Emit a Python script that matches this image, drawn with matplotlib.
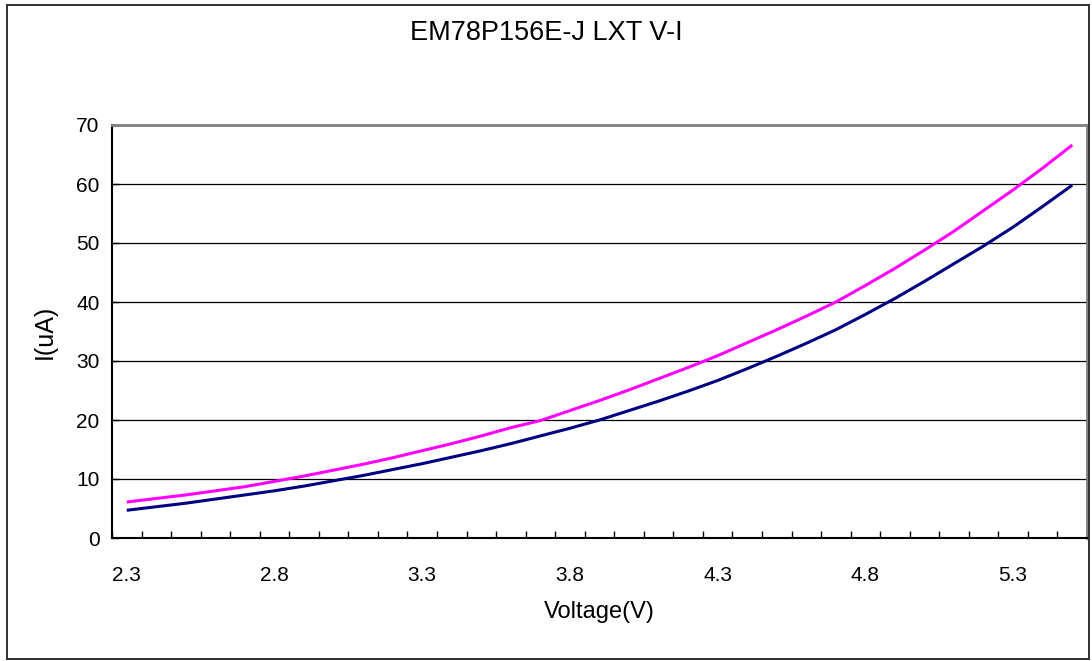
import numpy as np
import matplotlib
matplotlib.use("Agg")
from matplotlib import pyplot as plt
from matplotlib.patches import Rectangle

plt.rcParams['font.family'] = ['Liberation Sans', 'DejaVu Sans']

voltage = ["2.3", "2.4", "2.5", "2.6", "2.7", "2.8", "2.9", "3.0", "3.1", "3.2",
           "3.3", "3.4", "3.5", "3.6", "3.7", "3.8", "3.9", "4.0", "4.1", "4.2",
           "4.3", "4.4", "4.5", "4.6", "4.7", "4.8", "4.9", "5.0", "5.1", "5.2",
           "5.3", "5.4", "5.5"]
i_magenta = [6.1, 6.7, 7.3, 8.0, 8.7, 9.6, 10.5, 11.5, 12.5, 13.6,
             14.8, 16.0, 17.3, 18.7, 19.9, 21.6, 23.3, 25.1, 27.0, 28.9,
             30.9, 33.1, 35.3, 37.6, 40.0, 42.8, 45.7, 48.8, 52.0, 55.5,
             59.0, 62.7, 66.6]
i_navy = [4.7, 5.3, 5.9, 6.6, 7.3, 8.0, 8.8, 9.7, 10.6, 11.6,
          12.6, 13.7, 14.8, 16.0, 17.3, 18.6, 20.0, 21.6, 23.2, 24.9,
          26.7, 28.7, 30.8, 33.0, 35.3, 37.9, 40.6, 43.5, 46.5, 49.5,
          52.7, 56.2, 59.8]
yticks = [0, 10, 20, 30, 40, 50, 60, 70]

W, H = 1092, 661
fig = plt.figure(figsize=(W / 100, H / 100), dpi=100)
# outer chart border
fig.patches.append(Rectangle((7 / W, 2 / H), 1082 / W, 654 / H, transform=fig.transFigure,
                             fill=False, edgecolor='#303030', linewidth=1.4))

left, right, top, bottom = 112, 1087, 125, 538
ax = fig.add_axes([left / W, 1 - bottom / H, (right - left) / W, (bottom - top) / H])

x = np.arange(len(voltage))
ax.plot(x, i_magenta, color='#ff00ff', linewidth=2.2, solid_capstyle='butt')
ax.plot(x, i_navy, color='#000080', linewidth=2.2, solid_capstyle='butt')

ax.set_xlim(-0.5, len(voltage) - 0.5)
ax.set_ylim(0, 70)
ax.set_yticks(yticks)
ax.yaxis.grid(True, color='black', linewidth=0.9)
ax.set_axisbelow(True)

ax.set_xticks(x[::5])
ax.set_xticklabels(voltage[::5])
ax.set_xticks(np.arange(len(voltage) + 1) - 0.5, minor=True)
ax.tick_params(axis='x', which='major', length=0, pad=20, labelsize=15)
ax.tick_params(axis='x', which='minor', direction='in', length=5, width=1, color='black')
ax.tick_params(axis='y', direction='in', length=5, width=1, pad=9, labelsize=15)

for s in ['left', 'bottom']:
    ax.spines[s].set_color('black')
    ax.spines[s].set_linewidth(1.5)
for s in ['top', 'right']:
    ax.spines[s].set_color('#808080')
    ax.spines[s].set_linewidth(2)

ax.set_xlabel('Voltage(V)', fontsize=17, labelpad=12)
ax.set_ylabel('I(uA)', fontsize=18, labelpad=14)
fig.text(0.5, 1 - 33 / H, 'EM78P156E-J LXT V-I', ha='center', va='center', fontsize=19.5)

fig.savefig('out.png', dpi=100)
